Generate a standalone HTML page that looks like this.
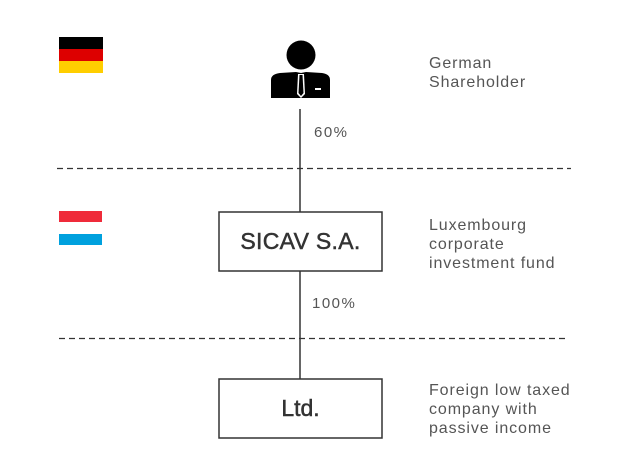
<!DOCTYPE html>
<html><head><meta charset="utf-8"><style>
html,body{margin:0;padding:0;background:#fff;width:630px;height:476px;overflow:hidden}
svg{display:block}
</style></head><body>
<svg width="630" height="476" viewBox="0 0 630 476" xmlns="http://www.w3.org/2000/svg" font-family="Liberation Sans, sans-serif">
<rect x="59" y="37" width="44" height="12" fill="#000"/>
<rect x="59" y="49" width="44" height="12" fill="#dd0000"/>
<rect x="59" y="61" width="44" height="12" fill="#ffce00"/>
<rect x="59" y="211" width="43" height="11" fill="#ef2b3a"/>
<rect x="59" y="234" width="43" height="11" fill="#00a1de"/>
<circle cx="301" cy="55" r="14.5" fill="#000"/>
<path d="M271 98 V80 Q271 74 280 73 L296 72 L301 73 L306 72 L322 73 Q330 74 330 80 V98 Z" fill="#000"/>
<path d="M298 74 L304 74 L305 94 L301 98 L297 94 Z" fill="#fff"/>
<path d="M299.5 75 L302.5 75 L303.5 93 L301 96 L298.5 93 Z" fill="#000"/>
<rect x="315" y="88" width="6" height="2" fill="#fff"/>
<line x1="300" y1="109" x2="300" y2="212" stroke="#333" stroke-width="1.5"/>
<line x1="300" y1="271" x2="300" y2="379" stroke="#333" stroke-width="1.5"/>
<line x1="57" y1="168.5" x2="571" y2="168.5" stroke="#333" stroke-width="1.3" stroke-dasharray="6,4"/>
<line x1="59" y1="338.5" x2="567" y2="338.5" stroke="#333" stroke-width="1.3" stroke-dasharray="6,4"/>
<rect x="219" y="212" width="163" height="59" fill="#fff" stroke="#333" stroke-width="1.5"/>
<rect x="219" y="379" width="163" height="59" fill="#fff" stroke="#333" stroke-width="1.5"/>
<text x="300.5" y="249" text-anchor="middle" font-size="23" letter-spacing="0.3" fill="#333" stroke="#333" stroke-width="0.5">SICAV S.A.</text>
<text x="300.5" y="416" text-anchor="middle" font-size="23" fill="#333" stroke="#333" stroke-width="0.5">Ltd.</text>
<text x="314" y="137" font-size="15" letter-spacing="1.5" fill="#555">60%</text>
<text x="312" y="308" font-size="15" letter-spacing="1.5" fill="#555">100%</text>
<g font-size="16" letter-spacing="0.9" fill="#555">
<text x="429" y="68">German</text>
<text x="429" y="87">Shareholder</text>
<text x="429" y="230">Luxembourg</text>
<text x="429" y="249">corporate</text>
<text x="429" y="268">investment fund</text>
<text x="429" y="395">Foreign low taxed</text>
<text x="429" y="414">company with</text>
<text x="429" y="433">passive income</text>
</g>
</svg>
</body></html>
